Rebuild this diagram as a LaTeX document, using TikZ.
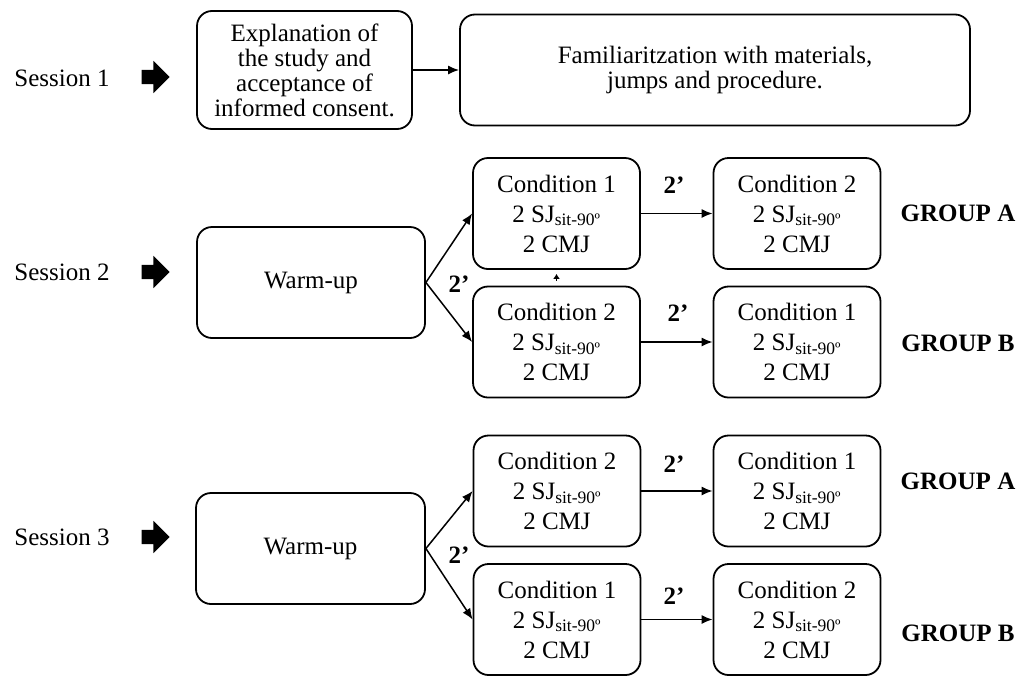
\documentclass[tikz,border=0pt]{standalone}
\usepackage{fontspec}
\setmainfont{Liberation Serif}
\usetikzlibrary{arrows.meta,shapes.arrows}

\newcommand{\condtext}[1]{Condition #1\\2 SJ\textsubscript{sit-90º}\\2 CMJ}

\begin{document}
\begin{tikzpicture}[x=1pt,y=-1pt,
  box/.style={draw,line width=1.8pt,rounded corners=15pt,align=center,font=\fontsize{25}{25}\selectfont},
  cond/.style={box,minimum width=167pt,minimum height=111pt,font=\fontsize{25}{30}\selectfont},
  lbl/.style={font=\fontsize{25}{25}\selectfont},
  grp/.style={font=\fontsize{25}{25}\selectfont\bfseries},
  bigarrow/.style={single arrow,fill,draw=none,inner sep=7pt,single arrow head extend=9pt,minimum height=28pt,single arrow head indent=0pt},
  >={Latex[length=11pt,width=9pt]}]
\useasboundingbox (0,0) rectangle (1019,675);

% sessions
\node[lbl] (S1) at (62,78) {Session 1};
\node[lbl] (S2) at (62,272) {Session 2};
\node[lbl] (S3) at (62,537) {Session 3};
\node[bigarrow] (P1) at (152,77) {};
\node[bigarrow] (P2) at (152,272) {};
\node[bigarrow] (P3) at (152,537) {};

% session 1
\node[box,minimum width=215pt,minimum height=118pt] (E1) at (304.5,70) {Explanation of\\the study and\\acceptance of\\informed consent.};
\node[box,minimum width=510pt,minimum height=111pt] (F1) at (715,70) {Familiaritzation with materials,\\jumps and procedure.};

% session 2
\node[box,minimum width=228pt,minimum height=111pt] (W2) at (311,282.5) {Warm-up};
\node[cond] (C1a) at (556.5,213.5) {\condtext{1}};
\node[cond] (C2a) at (556.5,342) {\condtext{2}};
\node[cond] (C2b) at (797,213.5) {\condtext{2}};
\node[cond] (C1b) at (797,342) {\condtext{1}};

% session 3
\node[box,minimum width=229pt,minimum height=111pt] (W3) at (310.5,548.5) {Warm-up};
\node[cond] (C2c) at (557,491) {\condtext{2}};
\node[cond] (C1c) at (557,619.5) {\condtext{1}};
\node[cond] (C1d) at (797,491) {\condtext{1}};
\node[cond] (C2d) at (797,619.5) {\condtext{2}};

% rest times and groups
\node[grp] (R2) at (459,284) {2’};
\node[grp] (R2a) at (674,185) {2’};
\node[grp] (R2b) at (678,313) {2’};
\node[grp] (R3) at (459,555) {2’};
\node[grp] (R3a) at (674,464) {2’};
\node[grp] (R3b) at (674,596) {2’};
\node[grp] (GA2) at (958,213) {GROUP A};
\node[grp] (GB2) at (958,343) {GROUP B};
\node[grp] (GA3) at (958,481) {GROUP A};
\node[grp] (GB3) at (958,633) {GROUP B};

\path[->,black,line width=1.5pt] (E1) edge (F1);
\path[->,black,line width=1.5pt] (W2.east) edge (C1a.west);
\path[->,black,line width=1.5pt] (W2.east) edge (C2a.west);
\path[->,black,line width=1.5pt] (C1a) edge (C2b);
\path[->,black,line width=1.5pt] (C2a) edge (C1b);
\path[-{Latex[length=5pt,width=7pt]},black,line width=1.5pt,shorten <=5pt,shorten >=4pt] (C2a.north) edge (C1a.south);
\path[->,black,line width=1.5pt] (W3.east) edge (C2c.west);
\path[->,black,line width=1.5pt] (W3.east) edge (C1c.west);
\path[->,black,line width=1.5pt] (C2c) edge (C1d);
\path[->,black,line width=1.5pt] (C1c) edge (C2d);
\end{tikzpicture}
\end{document}
